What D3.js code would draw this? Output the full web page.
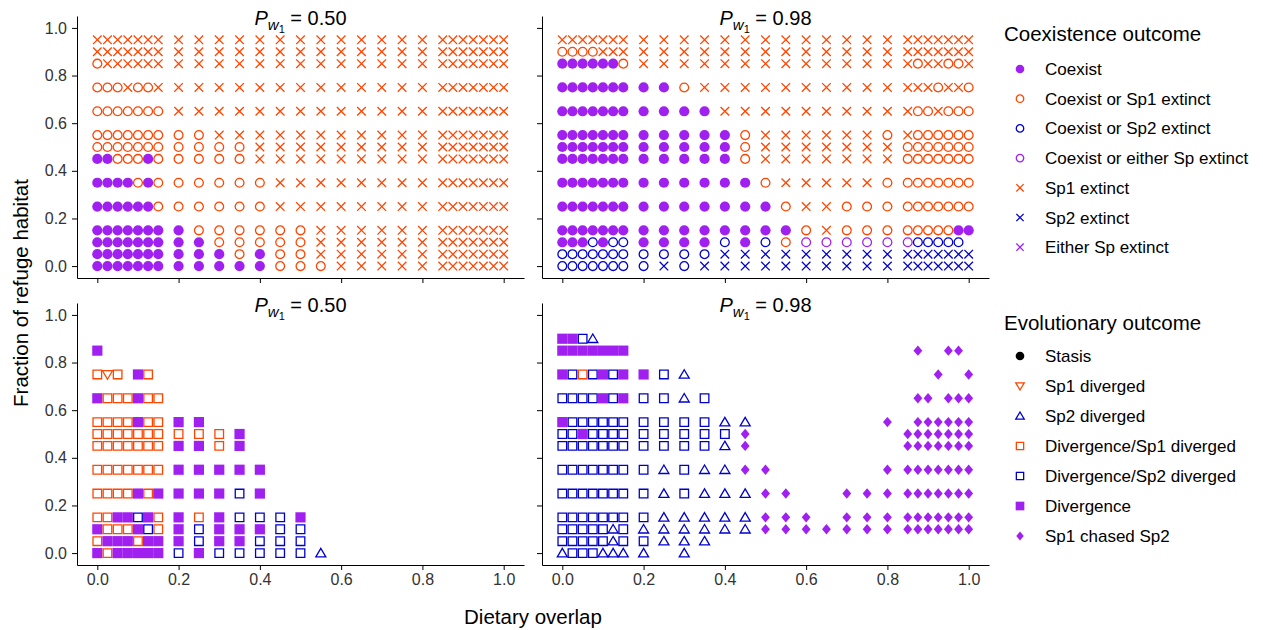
<!DOCTYPE html>
<html>
<head>
<meta charset="utf-8">
<script src="https://cdn.jsdelivr.net/npm/d3@7"></script>
<style>
  body { margin: 0; background: #fff; }
  svg { font-family: 'Liberation Sans', Arial, Helvetica, sans-serif; }
</style>
</head>
<body>
<div id="chart"></div>
<script>
// grid of dietary overlap values (columns) and refuge fractions (rows, top to bottom)
var xVals = [0, 0.025, 0.05, 0.075, 0.1, 0.125, 0.15,
  0.2, 0.25, 0.3, 0.35, 0.4, 0.45, 0.5, 0.55, 0.6, 0.65, 0.7, 0.75, 0.8,
  0.85, 0.875, 0.9, 0.925, 0.95, 0.975, 1];
var yVals = [0.95, 0.9, 0.85, 0.75, 0.65, 0.55, 0.5, 0.45, 0.35, 0.25, 0.15, 0.1, 0.05, 0];
var ticks = [0, 0.2, 0.4, 0.6, 0.8, 1.0];
var panelTitles = ['0.50', '0.98'];

// coexistence codes: F coexist, o coexist/sp1 extinct, b coexist/sp2 extinct,
// p coexist/either extinct, x sp1 extinct, X sp2 extinct, e either extinct
var coexLow = [
  'xxxxxxx xxxxxxxxxxxxx xxxxxxx',
  'xxxxxxx xxxxxxxxxxxxx xxxxxxx',
  'oxxxxxx xxxxxxxxxxxxx xxxxxxx',
  'oooxoox xxxxxxxxxxxxx xxxxxxx',
  'ooooooo xxxxxxxxxxxxx xxxxxxx',
  'ooooooo ooxxxxxxxxxxx xxxxxxx',
  'ooooooo ooooxxxxxxxxx xxxxxxx',
  'FFoooFo ooooxxxxxxxxx xxxxxxx',
  'FFFFoFo oooooxxxxxxxx xxxxxxx',
  'FFFFFFo oooooxxxxxxxx xxxxxxx',
  'FFFFFFF Fooooooxxxxxx xxxxxxx',
  'FFFFFFF FFoooooxxxxxx xxxxxxx',
  'FFFFFFF FFFoFooxxxxxx xxxxxxx',
  'FFFFFFF FFFFFoooxxxxx xxxxxxx'
];
var coexHigh = [
  'xxxxxxx xxxxxxxxxxxxx xxxxxxx',
  'ooooxxx xxxxxxxxxxxxx xxxxxxx',
  'FFFFFFo xxxxxxxxxxxxx xoxxoox',
  'FFFFFFF FFoxxxxxxxxxx xxxoxxo',
  'FFFFFFF FFFFxxxxxxxxx xooxooo',
  'FFFFFFF FFFFFoxxxxxxo xoooooo',
  'FFFFFFF FFFFFoxxxxxxx ooooooo',
  'FFFFFFF FFFFFoxxxxxxx ooooooo',
  'FFFFFFF FFFFFFoxxxxxo ooooooo',
  'FFFFFFF FFFFFFFoxxooo ooooooo',
  'FFFFFFF FFFFFFFFoxooo oooooFF',
  'FFFbFbb FFFFbFbopppp ppbbbbb',
  'bbbbbbb bbbbXXXXXXXXX XXXXXXX',
  'bbbbbbb bXbXXXXXXXXXX XXXXXXX'
];

// evolutionary codes: S stasis, v sp1 diverged, A sp2 diverged,
// q divergence/sp1, Q divergence/sp2, D divergence, C sp1 chased sp2
var evoLow = [
  '....... ............. .......',
  '....... ............. .......',
  'D...... ............. .......',
  'qvq.Dq. ............. .......',
  'DqqqDqq ............. .......',
  'qqqqDqq DD........... .......',
  'qqqqqqq qqqD......... .......',
  'qqqqqqq DDqD......... .......',
  'qqqqqqq DDDDD........ .......',
  'qqqqDqD DDDQD........ .......',
  'qqDDQDq DqDQQQD...... .......',
  'DqqqDQq DQDDDQQ...... .......',
  'qDDDqDD DQDDQQQ...... .......',
  'DqDDDDD QDQQQQQA..... .......'
];
var evoHigh = [
  '....... ............. .......',
  'DDQA... ............. .......',
  'DDDDDDD ............. .C..CC.',
  'DQqQDQD DQA.......... ...C..C',
  'QQQQDQD QQAQ......... .CC.CCC',
  'DQQQQQQ QQQQAA......C .CCCCCC',
  'QQDQQQQ QQQQQC....... CCCCCCC',
  'QQQQQQQ QQQQAC....... CCCCCCC',
  'QQQQQQQ QAQAACC.....C CCCCCCC',
  'QQQQQQQ QAQAAACC..CCC CCCCCCC',
  'QQQQQQQ QAAAAACCC.CCC CCCCCCC',
  'QQQQQAQ AAAAAACCCCCCC CCCCCCC',
  'QQQQQAQ QAAA......... .......',
  'AQQQAAA A.A.......... .......'
];

var coexCodes = ['F', 'o', 'b', 'p', 'x', 'X', 'e'];
var coexLabels = ['Coexist', 'Coexist or Sp1 extinct', 'Coexist or Sp2 extinct',
  'Coexist or either Sp extinct', 'Sp1 extinct', 'Sp2 extinct', 'Either Sp extinct'];
var evoCodes = ['S', 'v', 'A', 'q', 'Q', 'D', 'C'];
var evoLabels = ['Stasis', 'Sp1 diverged', 'Sp2 diverged', 'Divergence/Sp1 diverged',
  'Divergence/Sp2 diverged', 'Divergence', 'Sp1 chased Sp2'];

var purple = '#A020F0';
var orange = '#FF4500';
var blue = '#0000CD';

var styles = {
  F: { shape: 'dot', color: purple },
  o: { shape: 'circle', color: orange },
  b: { shape: 'circle', color: blue },
  p: { shape: 'circle', color: purple },
  x: { shape: 'cross', color: orange },
  X: { shape: 'cross', color: blue },
  e: { shape: 'cross', color: purple },
  S: { shape: 'dot', color: '#000' },
  v: { shape: 'down', color: orange },
  A: { shape: 'up', color: blue },
  q: { shape: 'square', color: orange },
  Q: { shape: 'square', color: blue },
  D: { shape: 'block', color: purple },
  C: { shape: 'diamond', color: purple }
};

function shapePath(shape, k) {
  var r;
  if (shape === 'dot') { r = 5.1 * k; return 'M' + (-r) + ',0a' + r + ',' + r + ' 0 1,0 ' + (2 * r) + ',0a' + r + ',' + r + ' 0 1,0 ' + (-2 * r) + ',0Z'; }
  if (shape === 'circle') { r = 4.4 * k; return 'M' + (-r) + ',0a' + r + ',' + r + ' 0 1,0 ' + (2 * r) + ',0a' + r + ',' + r + ' 0 1,0 ' + (-2 * r) + ',0Z'; }
  if (shape === 'cross') { r = 4.3 * k; return 'M' + (-r) + ',' + (-r) + 'L' + r + ',' + r + 'M' + (-r) + ',' + r + 'L' + r + ',' + (-r); }
  if (shape === 'square') { r = 4.3 * k; return 'M' + (-r) + ',' + (-r) + 'H' + r + 'V' + r + 'H' + (-r) + 'Z'; }
  if (shape === 'block') { r = 5.1 * k; return 'M' + (-r) + ',' + (-r) + 'H' + r + 'V' + r + 'H' + (-r) + 'Z'; }
  if (shape === 'up') { r = 5 * k; return 'M0,' + (-r * 0.95) + 'L' + r + ',' + (r * 0.75) + 'H' + (-r) + 'Z'; }
  if (shape === 'down') { r = 5 * k; return 'M0,' + (r * 0.95) + 'L' + r + ',' + (-r * 0.75) + 'H' + (-r) + 'Z'; }
  if (shape === 'diamond') { r = 5.2 * k; return 'M0,' + (-r) + 'L' + (r * 0.85) + ',0L0,' + r + 'L' + (-r * 0.85) + ',0Z'; }
}

function isFilled(shape) {
  return shape === 'dot' || shape === 'block' || shape === 'diamond';
}

function drawMark(g, code, x, y, k) {
  var st = styles[code];
  var filled = isFilled(st.shape);
  g.append('path')
    .attr('d', shapePath(st.shape, k))
    .attr('transform', 'translate(' + x + ',' + y + ')')
    .attr('fill', filled ? st.color : 'none')
    .attr('stroke', filled ? 'none' : st.color)
    .attr('stroke-width', 1.3);
}

var svg = d3
  .select('#chart')
  .append('svg')
  .attr('width', 1263)
  .attr('height', 630);

var panelW = 447;
var xLeft = [77, 542];
var yTop = [16, 303];
var panelH = 262;

var panels = [
  { col: 0, row: 0, grid: coexLow, title: panelTitles[0] },
  { col: 1, row: 0, grid: coexHigh, title: panelTitles[1] },
  { col: 0, row: 1, grid: evoLow, title: panelTitles[0] },
  { col: 1, row: 1, grid: evoHigh, title: panelTitles[1] }
];

panels.forEach(function (p) {
  var x = d3.scaleLinear().domain([-0.05, 1.05]).range([xLeft[p.col], xLeft[p.col] + panelW]);
  var y = d3.scaleLinear().domain([-0.05, 1.05]).range([yTop[p.row] + panelH, yTop[p.row]]);

  var g = svg.append('g');

  var rows = p.grid.map(function (s) { return s.replace(/ /g, ''); });
  rows.forEach(function (r, i) {
    for (var j = 0; j < xVals.length; j++) {
      var c = r.charAt(j);
      if (c && c !== '.') drawMark(g, c, x(xVals[j]), y(yVals[i]), 1);
    }
  });

  var yAxis = d3.axisLeft(y).tickValues(ticks).tickSize(5).tickSizeOuter(0).tickPadding(5)
    .tickFormat(p.col === 0 ? d3.format('.1f') : function () { return ''; });
  var xAxis = d3.axisBottom(x).tickValues(ticks).tickSize(5).tickSizeOuter(0).tickPadding(4)
    .tickFormat(p.row === 1 ? d3.format('.1f') : function () { return ''; });

  var ya = svg.append('g')
    .attr('transform', 'translate(' + xLeft[p.col] + ',0)')
    .call(yAxis);
  var xa = svg.append('g')
    .attr('transform', 'translate(0,' + (yTop[p.row] + panelH) + ')')
    .call(xAxis);
  [ya, xa].forEach(function (a) {
    a.selectAll('path, line').attr('stroke', '#000').attr('stroke-width', 1);
    a.selectAll('text').attr('fill', '#333').style('font-size', '16px')
      .style('font-family', "'Liberation Sans', Arial, sans-serif");
  });

  var t = svg.append('text')
    .attr('x', xLeft[p.col] + panelW / 2)
    .attr('y', yTop[p.row] + 9)
    .attr('text-anchor', 'middle')
    .style('font-size', '20px')
    .attr('fill', '#000');
  t.append('tspan').style('font-style', 'italic').text('P');
  t.append('tspan').style('font-style', 'italic').style('font-size', '15px').attr('dy', 5).text('w');
  t.append('tspan').style('font-size', '11px').attr('dy', 3).text('1');
  t.append('tspan').attr('dy', -8).text(' = ' + p.title);
});

// axis titles
svg.append('text')
  .attr('transform', 'translate(28,' + 293 + ') rotate(-90)')
  .attr('text-anchor', 'middle')
  .style('font-size', '20.5px')
  .text('Fraction of refuge habitat');

svg.append('text')
  .attr('x', 533)
  .attr('y', 624)
  .attr('text-anchor', 'middle')
  .style('font-size', '20.5px')
  .text('Dietary overlap');

// legends
function legend(top, first, title, codes, labels, step) {
  var lg = svg.append('g');
  lg.append('text')
    .attr('x', 1004)
    .attr('y', top)
    .style('font-size', '20.5px')
    .text(title);
  codes.forEach(function (c, i) {
    var yy = first + i * step;
    drawMark(lg, c, 1020, yy, 0.85);
    lg.append('text')
      .attr('x', 1045)
      .attr('y', yy + 6)
      .style('font-size', '17px')
      .text(labels[i]);
  });
}

legend(41, 69, 'Coexistence outcome', coexCodes, coexLabels, 29.7);
legend(330, 356, 'Evolutionary outcome', evoCodes, evoLabels, 30);
</script>
</body>
</html>
